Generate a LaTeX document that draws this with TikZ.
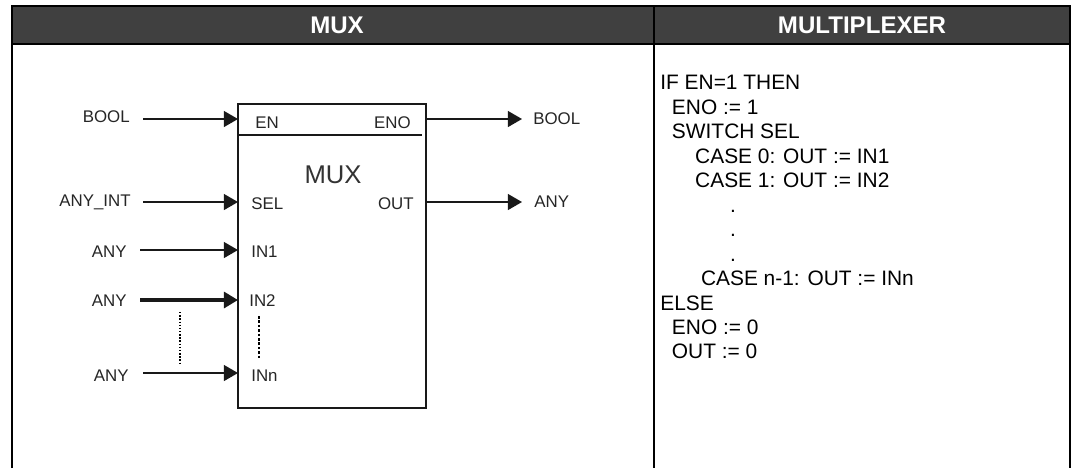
\documentclass[tikz,border=0pt]{standalone}
\usepackage{fontspec}
\setmainfont{Liberation Sans}
\usetikzlibrary{arrows.meta}
\definecolor{headGray}{RGB}{64,64,64}
\begin{document}
\begin{tikzpicture}[x=0.02cm,y=-0.02cm,
      frameline/.style={draw=black, line width=1.25pt},
      headtext/.style={text=white, font=\fontsize{13.7}{15}\selectfont\bfseries},
      lab/.style={inner sep=0pt, text=black!85, font=\fontsize{9.6}{11}\selectfont},
      wire/.style={draw=black!90, line width=0.9pt, -{Triangle[length=8pt,width=9pt]}},
      codetext/.style={anchor=north west, inner sep=0pt, align=left,
                       font=\fontsize{11.9}{13.93}\selectfont}
    ]
    \useasboundingbox (0,0) rectangle (1074,468);
    \fill[white] (0,0) rectangle (1074,468);

    % table
    \fill[headGray] (12,6) rectangle (1070,44);
    \coordinate (tl) at (12,6);
    \coordinate (tr) at (1070,6);
    \coordinate (tm) at (654,6);
    \coordinate (bl) at (12,468);
    \coordinate (br) at (1070,468);
    \coordinate (bm) at (654,468);
    \coordinate (hl) at (12,44);
    \coordinate (hr) at (1070,44);
    \draw[frameline] (bl) -- (tl) -- (tr) -- (br);
    \draw[frameline] (tm) -- (bm);
    \draw[frameline] (hl) -- (hr);
    \node[headtext] (head1) at (337,25) {MUX};
    \node[headtext] (head2) at (862,25) {MULTIPLEXER};

    % block
    \node[draw=black!90, line width=1pt, inner sep=0pt, outer sep=0pt, anchor=north west,
          minimum width=3.76cm, minimum height=6.08cm] (mux) at (238,104) {};
    \coordinate (sepl) at (238,135);
    \coordinate (sepr) at (422,135);
    \draw[draw=black!90, line width=0.9pt] (sepl) -- (sepr);
    \node[inner sep=0pt, text=black!80, font=\fontsize{14.6}{16}\selectfont] (title) at (333,175) {MUX};

    \node[lab, anchor=west] (en)  at (255,123) {EN};
    \node[lab, anchor=east] (eno) at (411,123) {ENO};
    \node[lab, anchor=west] (sel) at (251,204) {SEL};
    \node[lab, anchor=east] (out) at (414,204) {OUT};
    \node[lab, anchor=west] (in1) at (251,252) {IN1};
    \node[lab, anchor=west] (in2) at (249,301) {IN2};
    \node[lab, anchor=west] (inn) at (251,376) {INn};

    % left labels
    \node[lab, anchor=east] (bool1) at (130,117) {BOOL};
    \node[lab, anchor=east] (int1)  at (131,202) {ANY\_INT};
    \node[lab, anchor=east] (any1)  at (127,252) {ANY};
    \node[lab, anchor=east] (any2)  at (127,301) {ANY};
    \node[lab, anchor=east] (any3)  at (129,376) {ANY};

    % right labels
    \node[lab, anchor=west] (bool2) at (533,119) {BOOL};
    \node[lab, anchor=west] (any4)  at (534,202) {ANY};

    \coordinate (w1) at (143,119);
    \coordinate (w2) at (143,202);
    \coordinate (w3) at (140,250);
    \coordinate (w4) at (140,300);
    \coordinate (w5) at (143,373);
    \coordinate (e1) at (522,119);
    \coordinate (e2) at (522,202);
    \draw[wire] (w1) -- (w1 -| mux.west);
    \draw[wire] (w2) -- (w2 -| mux.west);
    \draw[wire] (w3) -- (w3 -| mux.west);
    \draw[wire, line width=2pt] (w4) -- (w4 -| mux.west);
    \draw[wire] (w5) -- (w5 -| mux.west);
    \draw[wire] (e1 -| mux.east) -- (e1);
    \draw[wire] (e2 -| mux.east) -- (e2);

    % dots
    \coordinate (d1) at (180,312);
    \coordinate (d2) at (180,364);
    \coordinate (d3) at (259,316);
    \coordinate (d4) at (259,358);
    \draw[line width=0.8pt, densely dotted] (d1) -- (d2);
    \draw[line width=1.5pt, densely dotted] (d3) -- (d4);

    % code
    \node[codetext] (code) at (660,75) {IF EN=1 THEN\\
      \ \ ENO := 1\\
      \ \ SWITCH SEL\\
      \ \ \ \ \ \ CASE 0: OUT := IN1\\
      \ \ \ \ \ \ CASE 1: OUT := IN2\\
      \ \ \ \ \ \ \ \ \ \ \ \ .\\
      \ \ \ \ \ \ \ \ \ \ \ \ .\\
      \ \ \ \ \ \ \ \ \ \ \ \ .\\
      \ \ \ \ \ \ \ CASE n-1: OUT := INn\\
      ELSE\\
      \ \ ENO := 0\\
      \ \ OUT := 0};
  \end{tikzpicture}
\end{document}
